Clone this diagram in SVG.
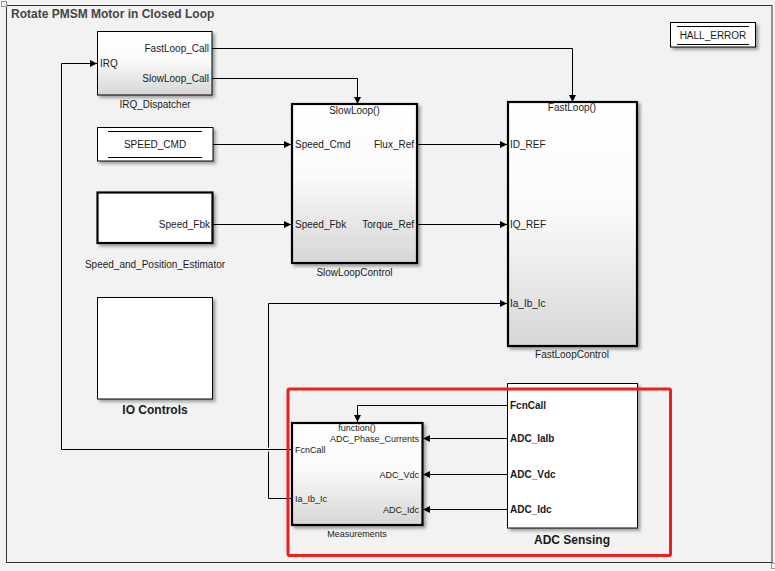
<svg xmlns="http://www.w3.org/2000/svg" width="775" height="571" viewBox="0 0 775 571">
<style>
text{font-family:"Liberation Sans",Arial,sans-serif;fill:#1a1a1a}
.p{font-size:10px}
.m{font-size:9px}
.b{font-size:10px;font-weight:bold}
.lb{font-size:12px;font-weight:bold}
.c{text-anchor:middle}
.r{text-anchor:end}
.w{stroke:#000;stroke-width:1;fill:none}
.blk{stroke:#000;stroke-width:1}
.thk{stroke:#000;stroke-width:2.2}
</style>
<defs>
<linearGradient id="g" x1="0" y1="0" x2="0" y2="1">
<stop offset="0" stop-color="#ffffff"/>
<stop offset="0.45" stop-color="#fafafa"/>
<stop offset="1" stop-color="#d6d6d6"/>
</linearGradient>
<filter id="sh" x="-10%" y="-10%" width="130%" height="130%">
<feDropShadow dx="2.5" dy="2.5" stdDeviation="1.5" flood-color="#000" flood-opacity="0.35"/>
</filter>
<marker id="a" markerUnits="userSpaceOnUse" markerWidth="8" markerHeight="8" refX="7" refY="4" orient="auto">
<path d="M0,0.5 L7,4 L0,7.5 z" fill="#000"/>
</marker>
</defs>
<rect x="0" y="0" width="775" height="571" fill="#f2f2f2"/>
<rect x="6.5" y="5.5" width="765.5" height="557" fill="none" stroke="#333" stroke-width="1"/>
<rect x="1.5" y="1.5" width="5" height="5" fill="none" stroke="#999" stroke-width="1"/>
<rect x="771.5" y="563.5" width="5" height="5" fill="none" stroke="#999" stroke-width="1"/>
<text x="11" y="18" style="font-size:12px;font-weight:bold;fill:#444">Rotate PMSM Motor in Closed Loop</text>

<g id="connectors">
<polyline class="w" points="212,48.5 572.5,48.5 572.5,102" marker-end="url(#a)"/>
<polyline class="w" points="212,78.5 357.5,78.5 357.5,104" marker-end="url(#a)"/>
<polyline class="w" points="213,144.5 291,144.5" marker-end="url(#a)"/>
<polyline class="w" points="213,224.5 291,224.5" marker-end="url(#a)"/>
<polyline class="w" points="417,144.5 507,144.5" marker-end="url(#a)"/>
<polyline class="w" points="417,224.5 507,224.5" marker-end="url(#a)"/>
<polyline class="w" points="507,405.5 357.5,405.5 357.5,422" marker-end="url(#a)"/>
<polyline class="w" points="507,438.5 423,438.5" marker-end="url(#a)"/>
<polyline class="w" points="507,474.5 423,474.5" marker-end="url(#a)"/>
<polyline class="w" points="507,509.5 423,509.5" marker-end="url(#a)"/>
<polyline class="w" points="291,449.5 61.5,449.5 61.5,63.5 97,63.5" marker-end="url(#a)"/>
<polyline class="w" points="291,498.5 268.5,498.5 268.5,451.5"/>
<polyline class="w" points="268.5,447.5 268.5,303.5 507,303.5" marker-end="url(#a)"/>
</g>

<g id="irq_dispatcher">
<rect x="97.5" y="31.5" width="114.5" height="63.5" fill="url(#g)" class="blk" filter="url(#sh)"/>
<text x="100" y="66.5" class="p">IRQ</text>
<text x="209" y="52" class="p r">FastLoop_Call</text>
<text x="209" y="82" class="p r">SlowLoop_Call</text>
<text x="155" y="107.5" class="p c">IRQ_Dispatcher</text>
</g>

<g id="speed_cmd">
<rect x="97.5" y="127.5" width="115.5" height="33.5" fill="#fff" class="blk" filter="url(#sh)"/>
<line x1="108" y1="131.5" x2="202" y2="131.5" stroke="#000"/>
<line x1="108" y1="157.5" x2="202" y2="157.5" stroke="#000"/>
<text x="155" y="148" class="p c">SPEED_CMD</text>
</g>

<g id="speed_and_position_estimator">
<rect x="97.5" y="192.5" width="115" height="50.5" fill="#fff" class="thk" filter="url(#sh)"/>
<text x="210" y="228" class="p r">Speed_Fbk</text>
<text x="155" y="268" class="p c">Speed_and_Position_Estimator</text>
</g>

<g id="io_controls">
<rect x="97.5" y="297.5" width="115" height="101.5" fill="#fff" class="blk" filter="url(#sh)"/>
<text x="155" y="414" class="lb c">IO Controls</text>
</g>

<g id="slow_loop_control">
<rect x="292" y="104" width="125" height="159" fill="url(#g)" class="thk" filter="url(#sh)"/>
<text x="354.5" y="114" class="p c">SlowLoop()</text>
<text x="295" y="148" class="p">Speed_Cmd</text>
<text x="295" y="228" class="p">Speed_Fbk</text>
<text x="414" y="148" class="p r">Flux_Ref</text>
<text x="414" y="228" class="p r">Torque_Ref</text>
<text x="354.5" y="276" class="p c">SlowLoopControl</text>
</g>

<g id="fast_loop_control">
<rect x="508" y="102" width="129" height="244" fill="url(#g)" class="thk" filter="url(#sh)"/>
<text x="572" y="111" class="p c">FastLoop()</text>
<text x="510" y="148" class="p">ID_REF</text>
<text x="510" y="228" class="p">IQ_REF</text>
<text x="510" y="307" class="p">Ia_Ib_Ic</text>
<text x="572" y="358" class="p c">FastLoopControl</text>
</g>

<g id="hall_error">
<rect x="670.5" y="22.5" width="85" height="24.5" fill="#fff" class="blk" filter="url(#sh)"/>
<line x1="677" y1="26.5" x2="749" y2="26.5" stroke="#000"/>
<line x1="677" y1="44.5" x2="749" y2="44.5" stroke="#000"/>
<text x="713" y="38.5" class="p c">HALL_ERROR</text>
</g>

<g id="measurements">
<rect x="292" y="423" width="130.5" height="102" fill="url(#g)" class="thk" filter="url(#sh)"/>
<text x="357" y="431" class="m c">function()</text>
<text x="419" y="441.5" class="m r">ADC_Phase_Currents</text>
<text x="419" y="477.5" class="m r">ADC_Vdc</text>
<text x="419" y="512.5" class="m r">ADC_Idc</text>
<text x="295" y="453" class="m">FcnCall</text>
<text x="295" y="501.5" class="m">Ia_Ib_Ic</text>
<text x="357" y="537" class="m c">Measurements</text>
</g>

<g id="adc_sensing">
<rect x="507.5" y="383.5" width="130" height="144.5" fill="#fff" class="blk" filter="url(#sh)"/>
<text x="510" y="409" class="b">FcnCall</text>
<text x="510" y="442" class="b">ADC_IaIb</text>
<text x="510" y="478" class="b">ADC_Vdc</text>
<text x="510" y="513" class="b">ADC_Idc</text>
<text x="572" y="544" class="lb c">ADC Sensing</text>
</g>

<g id="highlight">
<rect x="288" y="389" width="382.5" height="166.5" rx="1.5" fill="none" stroke="#f01e1e" stroke-width="3"/>
</g>
</svg>
